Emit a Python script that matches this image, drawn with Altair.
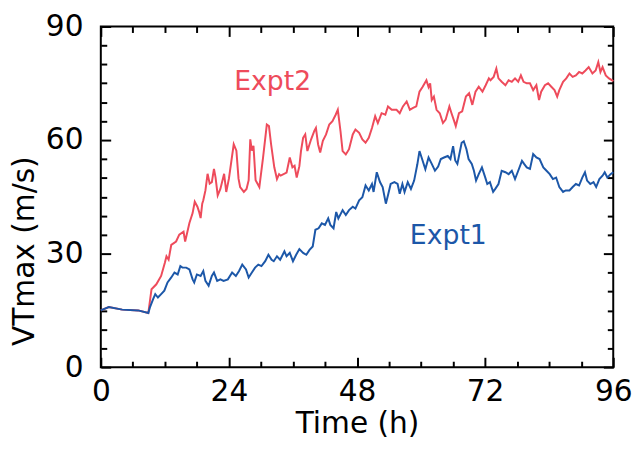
import altair as alt
import pandas as pd

# ---- data ----
expt1_t = [0, 1.5, 4, 7, 8.9, 9.2, 9.8, 10.2, 10.7, 11.3, 11.9, 12.5, 13.2, 13.8, 14.4, 14.9, 15.3, 16, 16.6, 17.2,
           17.5, 18, 18.7, 19.2, 19.6, 20.2, 20.8, 21.2, 21.8, 22.4, 23, 23.8, 24.6, 25.3, 25.9, 26.5, 27.2, 27.7,
           28.3, 28.9, 29.5, 30.1, 30.8, 31.4, 32, 32.4, 33, 33.6, 34.4, 34.8, 35.4, 36, 36.6, 37.2, 37.9, 38.5,
           39.1, 39.7, 40.2, 40.8, 41.4, 42, 42.6, 43, 43.6, 44.1, 44.5, 45.3, 45.9, 46.5, 47.2, 47.7, 48.4, 49,
           49.6, 50.2, 50.8, 51.1, 51.7, 52.3, 52.8, 53.4, 53.8, 54.3, 55, 55.6, 56, 56.5, 56.9, 57.5, 58.1, 58.7,
           59.3, 59.7, 60.1, 60.8, 61.4, 62, 62.6, 63.2, 63.7, 64.3, 65, 65.5, 66, 66.4, 66.8, 67.1, 67.6, 68,
           68.5, 68.9, 69.5, 69.9, 70.3, 70.8, 71.4, 72, 72.4, 72.9, 73.5, 73.9, 74.5, 75.1, 75.8, 76.4, 77, 77.6,
           78.2, 78.9, 79.3, 79.8, 80.4, 81, 81.6, 82.2, 82.9, 83.5, 84.1, 84.7, 85.3, 85.9, 86.6, 87.1, 87.8,
           88.4, 89, 89.6, 90.2, 90.7, 91.1, 91.7, 92.3, 92.8, 93.4, 94, 94.4, 94.9, 95.5, 96]
expt1_v = [15.0, 15.9, 15.2, 15.0, 14.3, 15.8, 18.0, 19.3, 18.4, 19.3, 20.2, 22.4, 23.7, 25.0, 24.5, 26.7, 26.3,
           26.3, 25.8, 23.2, 22.4, 24.5, 24.1, 25.4, 22.8, 21.5, 24.1, 25.0, 22.8, 23.2, 22.8, 23.2, 25.0, 24.1,
           25.4, 27.1, 25.8, 23.7, 25.0, 26.3, 27.1, 26.7, 28.0, 29.7, 28.4, 28.0, 29.3, 28.4, 30.6, 29.3, 30.2,
           28.0, 29.7, 31.2, 30.2, 29.7, 31.0, 31.9, 36.3, 36.7, 38.0, 37.6, 39.3, 37.6, 36.7, 41.0, 39.3, 41.5,
           40.2, 41.5, 42.4, 41.9, 44.1, 44.9, 48.0, 46.7, 48.4, 46.3, 51.5, 48.9, 47.6, 43.2, 45.4, 48.4, 48.9,
           48.4, 45.8, 48.4, 46.3, 48.9, 47.1, 49.3, 53.6, 57.1, 55.4, 52.3, 55.4, 53.7, 51.9, 53.0, 55.0, 55.4,
           55.8, 55.0, 58.4, 54.6, 53.7, 55.8, 59.3, 59.7, 57.6, 55.0, 53.7, 51.9, 49.3, 51.0, 52.8, 50.2, 48.4,
           48.9, 46.3, 47.1, 48.4, 51.9, 51.5, 51.0, 51.9, 49.7, 51.9, 54.5, 53.7, 52.8, 52.4, 56.3, 55.4, 55.0,
           52.8, 51.9, 51.0, 49.7, 50.1, 47.6, 46.3, 46.7, 46.7, 47.6, 48.4, 48.0, 50.1, 51.5, 49.3, 48.4, 48.9,
           47.6, 49.7, 50.6, 51.5, 50.1, 51.0, 51.5]

expt2_t = [0, 1.5, 4, 7, 8.9, 9.5, 10.4, 11.3, 12, 12.3, 12.7, 13.2, 14.1, 14.7, 15.5, 15.8, 16.6, 17.2, 17.6, 18.1,
           18.4, 18.7, 19.0, 19.2, 19.6, 20.0, 20.4, 20.8, 21.2, 21.5, 21.9, 22.4, 23.1, 23.5, 24.0, 24.9, 25.4,
           25.8, 26.1, 26.8, 27.3, 27.7, 28.0, 28.3, 28.6, 29.0, 29.7, 30.4, 31.1, 31.5, 31.9, 32.5, 33.0, 33.4,
           33.7, 34.8, 35.4, 35.9, 36.3, 36.7, 37.2, 37.5, 37.9, 38.3, 38.7, 39.4, 40.0, 40.3, 40.7, 41.1, 41.6,
           42.2, 42.8, 43.4, 44.0, 44.4, 44.9, 45.3, 45.9, 46.5, 47.2, 47.7, 48.4, 49.0, 49.6, 50.2, 50.8, 51.4,
           51.9, 52.6, 53.3, 53.8, 54.5, 55.4, 56.0, 56.6, 57.3, 57.9, 58.5, 59.1, 59.7, 60.3, 61.0, 61.4, 61.7,
           62.0, 62.4, 62.9, 63.5, 64.1, 64.6, 65.3, 65.7, 66.2, 66.5, 67.1, 67.7, 68.4, 69.0, 69.6, 70.2, 70.8,
           71.5, 72.1, 72.7, 73.0, 73.6, 74.1, 74.5, 75.1, 75.8, 76.4, 77.0, 77.6, 78.2, 78.7, 79.2, 79.8, 80.4,
           81.0, 81.6, 82.1, 82.5, 83.2, 83.8, 84.4, 85.0, 85.5, 85.9, 86.6, 87.2, 87.8, 88.4, 89.0, 89.6, 90.2,
           90.8, 91.4, 92.1, 92.7, 93.2, 93.6, 94.0, 94.6, 95.2, 95.8, 96.0]
expt2_v = [15.0, 15.9, 15.2, 15.0, 14.3, 20.6, 21.9, 24.1, 27.6, 29.3, 28.4, 32.3, 33.2, 35.0, 35.8, 33.2, 38.1,
           40.7, 43.7, 42.4, 41.1, 39.4, 43.2, 44.1, 46.7, 51.1, 48.5, 48.9, 52.4, 50.1, 45.4, 47.1, 51.1, 46.3,
           49.8, 58.9, 57.2, 49.8, 47.6, 46.3, 47.1, 49.4, 60.2, 57.2, 58.5, 49.4, 47.6, 55.4, 64.1, 63.7, 58.9,
           52.8, 49.7, 51.0, 50.6, 51.4, 55.4, 52.8, 53.2, 50.1, 53.1, 57.1, 60.6, 61.5, 57.1, 60.2, 62.4, 63.2,
           58.9, 56.7, 59.8, 61.5, 64.1, 65.0, 66.7, 68.0, 62.4, 57.1, 56.2, 57.6, 61.5, 62.8, 61.9, 60.2, 59.3,
           60.6, 63.2, 66.3, 64.5, 67.1, 66.7, 68.9, 68.0, 68.0, 67.1, 68.9, 70.2, 68.0, 68.5, 68.9, 72.8, 74.1,
           75.8, 74.0, 75.0, 70.6, 71.5, 68.0, 67.1, 64.5, 65.4, 68.9, 67.1, 65.0, 63.7, 67.1, 67.6, 71.5, 72.4,
           69.3, 72.8, 74.1, 72.8, 74.5, 76.3, 75.8, 76.7, 78.9, 76.3, 75.4, 74.5, 75.8, 75.4, 76.3, 75.4, 77.1,
           75.4, 75.0, 75.0, 73.2, 74.5, 70.6, 72.8, 74.5, 75.0, 74.1, 73.2, 71.5, 73.2, 75.4, 76.3, 77.6, 76.7,
           77.1, 78.0, 77.6, 78.4, 79.3, 77.6, 78.4, 80.6, 78.0, 79.3, 77.1, 76.3, 75.8, 75.5]

label_text = ["Expt2", "Expt1"]
label_t = [25.0, 57.9]
label_v = [73.3, 32.6]

x_major = [0, 24, 48, 72, 96]
x_minor = [6, 12, 18, 30, 36, 42, 54, 60, 66, 78, 84, 90]
y_major = [0, 30, 60, 90]
y_minor = [5, 10, 15, 20, 25, 35, 40, 45, 50, 55, 65, 70, 75, 80, 85]

# ---- styling ----
RED = "#EE4B5B"
BLUE = "#1C57A8"
FONT = "DejaVu Sans"
W, H = 519, 345

df1 = pd.DataFrame({"t": expt1_t, "v": expt1_v})
df2 = pd.DataFrame({"t": expt2_t, "v": expt2_v})
df_lab = pd.DataFrame({"text": label_text, "t": label_t, "v": label_v})

xscale = alt.Scale(domain=[0, 96], nice=False, zero=False)
yscale = alt.Scale(domain=[0, 90], nice=False, zero=False)

# label axes (no ticks)
xaxis_lab = alt.Axis(orient="bottom", values=x_major, ticks=False, domain=False, grid=False,
                     labelFont=FONT, labelFontSize=30, labelColor="black", labelPadding=10,
                     labelFlush=False,
                     title="Time (h)", titleFont=FONT, titleFontSize=30, titleFontWeight="normal",
                     titleColor="black", titleBaseline="alphabetic", titleY=66)
yaxis_lab = alt.Axis(orient="left", values=y_major, ticks=False, domain=False, grid=False,
                     labelFont=FONT, labelFontSize=30, labelColor="black", labelPadding=18,
                     labelFlush=False,
                     title="VTmax (m/s)", titleFont=FONT, titleFontSize=30, titleFontWeight="normal",
                     titleColor="black", titleBaseline="alphabetic", titleX=-68, titleY=227)


def tick_axis(orient, vals, length):
    # tick-only axis; a negative size draws the ticks inside the frame
    return alt.Axis(orient=orient, values=vals, labels=False, domain=False, grid=False, title=None,
                    ticks=True, tickColor="black", tickWidth=2,
                    tickSize=alt.ExprRef(expr=str(-length)))


def layer_with(data, mark, xax, yax):
    return mark.encode(
        x=alt.X("t:Q", scale=xscale, axis=xax),
        y=alt.Y("v:Q", scale=yscale, axis=yax),
    ).properties(data=data)


red_line = alt.Chart(df2).mark_line(color=RED, strokeWidth=2).encode(
    x=alt.X("t:Q", scale=xscale, axis=xaxis_lab),
    y=alt.Y("v:Q", scale=yscale, axis=yaxis_lab),
)
blue_line = alt.Chart(df1).mark_line(color=BLUE, strokeWidth=2).encode(
    x=alt.X("t:Q", scale=xscale, axis=tick_axis("bottom", x_major, 10)),
    y=alt.Y("v:Q", scale=yscale, axis=tick_axis("left", y_major, 10)),
)
text = alt.Chart(df_lab).mark_text(align="left", baseline="alphabetic", font=FONT, fontSize=27).encode(
    x=alt.X("t:Q", scale=xscale, axis=tick_axis("bottom", x_minor, 6)),
    y=alt.Y("v:Q", scale=yscale, axis=tick_axis("left", y_minor, 6)),
    text="text:N",
    color=alt.Color("text:N", scale=alt.Scale(domain=["Expt2", "Expt1"], range=[RED, BLUE]), legend=None),
)
# invisible carriers for the top / right tick axes
top_major = alt.Chart(df1).mark_line(opacity=0).encode(
    x=alt.X("t:Q", scale=xscale, axis=tick_axis("top", x_major, 10)),
    y=alt.Y("v:Q", scale=yscale, axis=tick_axis("right", y_major, 10)),
)
top_minor = alt.Chart(df2).mark_line(opacity=0).encode(
    x=alt.X("t:Q", scale=xscale, axis=tick_axis("top", x_minor, 6)),
    y=alt.Y("v:Q", scale=yscale, axis=tick_axis("right", y_minor, 6)),
)

chart = alt.layer(top_major, top_minor, red_line, blue_line, text).resolve_axis(
    x="independent", y="independent"
).properties(
    width=W, height=H,
    padding={"left": 94, "top": 16, "right": 19, "bottom": 72},
    autosize=alt.AutoSizeParams(type="none"),
).configure_view(stroke="black", strokeWidth=2)

chart.save("out.html", embed_options={"renderer": "svg", "actions": False})
